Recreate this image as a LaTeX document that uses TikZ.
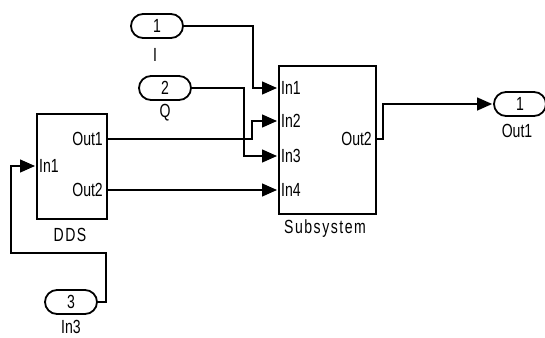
\documentclass[tikz,border=0pt]{standalone}
\usepackage{fontspec}
\setmainfont{Liberation Sans}
\newfontfamily\slfont[FakeStretch=0.74]{Liberation Sans}
\usetikzlibrary{arrows.meta}

\begin{document}
\begin{tikzpicture}[x=1pt, y=-1pt,
  sig/.style={line width=1.3pt, -{Triangle[length=15pt,width=13pt]}, shorten >=1pt},
  blk/.style={draw, line width=1.8pt, anchor=north west, inner sep=0pt},
  port/.style={draw, line width=1.8pt, rounded corners=12pt, minimum width=52pt,
    minimum height=24pt, inner sep=0pt, font=\slfont\fontsize{19}{20}\selectfont},
  lbl/.style={font=\slfont\fontsize{19}{20}\selectfont, inner sep=3pt},
  blkname/.style={font=\slfont\fontsize{19}{20}\selectfont\addfontfeature{LetterSpace=8}}]
  \useasboundingbox (0,0) rectangle (545,337);

  % blocks
  \node[blk, minimum width=70pt, minimum height=105pt] (dds) at (36,113) {};
  \node[blk, minimum width=97pt, minimum height=148pt] (sub) at (278,65) {};

  % ports of the blocks
  \coordinate (dds-in1) at (36,166);
  \coordinate (dds-out1) at (106,139);
  \coordinate (dds-out2) at (106,190);
  \coordinate (sub-in1) at (278,88);
  \coordinate (sub-in2) at (278,121);
  \coordinate (sub-in3) at (278,156);
  \coordinate (sub-in4) at (278,190);
  \coordinate (sub-out2) at (375,139);
  \coordinate (back) at (11,253);

  % in and out ports
  \node[port] (i1) at (157,26) {1};
  \node[port] (i2) at (165,88) {2};
  \node[port] (i3) at (71,302) {3};
  \node[port] (o1) at (520,104) {1};

  \node[lbl] (i1-name) at (155,55) {I};
  \node[lbl] (i2-name) at (165,113) {Q};
  \node[lbl] (i3-name) at (71,327) {In3};
  \node[lbl] (o1-name) at (517,131) {Out1};
  \node[blkname] (dds-name) at (70,235) {DDS};
  \node[blkname] (sub-name) at (325,229) {Subsystem};

  \node[lbl, anchor=west] (dds-t1) at (dds-in1) {In1};
  \node[lbl, anchor=east] (dds-t2) at (dds-out1) {Out1};
  \node[lbl, anchor=east] (dds-t3) at (dds-out2) {Out2};
  \node[lbl, anchor=west] (sub-t1) at (sub-in1) {In1};
  \node[lbl, anchor=west] (sub-t2) at (sub-in2) {In2};
  \node[lbl, anchor=west] (sub-t3) at (sub-in3) {In3};
  \node[lbl, anchor=west] (sub-t4) at (sub-in4) {In4};
  \node[lbl, anchor=east] (sub-t5) at (sub-out2) {Out2};

  % signals
  \draw[sig] (i1.east) -- ++(69,0) |- (sub-in1);
  \draw[sig] (i2.east) -- ++(52,0) |- (sub-in3);
  \draw[sig] (dds-out1) -- ++(146,0) |- (sub-in2);
  \draw[sig] (dds-out2) -- (sub-in4);
  \draw[sig] (i3.east) -- ++(8,0) |- (back) |- (dds-in1);
  \draw[sig] (sub-out2) -- ++(8,0) |- (o1.west);
\end{tikzpicture}
\end{document}
